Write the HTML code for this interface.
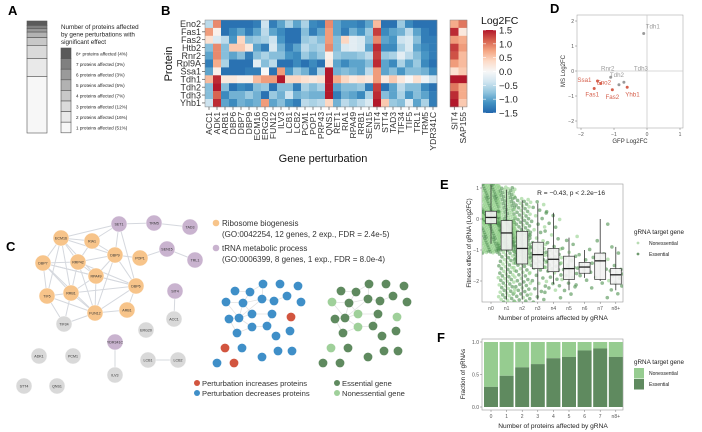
<!DOCTYPE html>
<html><head><meta charset="utf-8"><style>
body{margin:0;background:#fff}
svg{display:block;font-family:"Liberation Sans",Arial,sans-serif}
</style></head><body>
<svg id="fig" width="702" height="432" viewBox="0 0 702 432" xmlns="http://www.w3.org/2000/svg">
<g font-weight="bold" font-size="13" fill="#000">
<text x="8" y="15">A</text>
<text x="161" y="15">B</text>
<text x="6" y="251">C</text>
<text x="550" y="13">D</text>
<text x="440" y="189">E</text>
<text x="437" y="342">F</text>
</g>
<g id="pa"></g>
<g id="pb"></g>
<g id="pc"></g>
<g id="pd"></g>
<g id="pe"></g>
<g id="pf"></g>
</svg>
<script>
// ---------- DATA ----------
const aLabels = ["8+ proteins affected (4%)","7 proteins affected (3%)","6 proteins affected (3%)","5 proteins affected (5%)","4 proteins affected (7%)","3 proteins affected (12%)","2 proteins affected (16%)","1 proteins affected (51%)"];
const aPercents = [4,3,3,5,7,12,16,51];
const aShades = ["#5a5a5a","#808080","#9a9a9a","#b2b2b2","#c8c8c8","#dadada","#e9e9e9","#f7f7f7"];

const bProteins = ["Eno2","Fas1","Fas2","Htb2","Rnr2","Rpl9A","Ssa1","Tdh1","Tdh2","Tdh3","Yhb1"];
const bGenes = ["ACC1","ADK1","ARB1","DBP6","DBP7","DBP9","ECM16","ERG20","FUN12","ILV3","LCB1","LCB2","PCM1","POP1","PRP43","QNS1","RET1","RIA1","RPA49","RRB1","SEN15","SIT4","STT4","TAD3","TIF34","TIF5","TRL1","TRM5","YDR341C"];
const bValues = [
[-0.5,0.8,0.3,-0.8,-1,-1.3,-1,0.6,-0.8,-0.8,-0.4],
[0.9,0.1,-0.3,0.9,0.9,0.7,0.1,1.4,1.5,1.1,1.4],
[-1.4,-1.4,-0.5,-0.8,-0.8,-0.6,-1.4,0.2,-0.8,-1.2,-1.0],
[-1.4,-1.2,-1.1,0.5,-1.0,-1.4,-1.4,0.2,-1.4,-0.9,-1.2],
[-1.4,-1.0,0.4,0.5,-0.8,-1.4,-1.4,0.1,-1.2,-0.9,-0.9],
[-1.4,-1.3,-0.8,0.2,-1.3,-1.4,-1.3,0.1,-1.3,-0.7,-1.0],
[-1.3,-1.0,-0.7,-1.0,-0.8,-0.2,-1.3,0.6,-0.8,-0.9,-0.9],
[-0.4,-0.5,-0.6,-1.3,-0.6,-0.8,0.0,0.8,-0.7,-1.4,0.8],
[-1.3,-1.0,-0.4,-0.3,-0.8,-0.5,-1.4,0.8,-1.4,-0.7,-1.0],
[-1.0,-1.2,-1.1,-0.9,-0.8,-1.4,0.8,1.5,-0.8,-0.9,-0.8],
[-0.6,-1.4,-1.4,-1.3,-1.1,-1.4,-1.1,0.4,-0.8,-0.4,-1.1],
[-1.0,-1.4,-1.4,-1.0,-1.2,-1.2,-0.7,0.4,-1.3,-0.9,-1.3],
[-0.6,-0.8,-0.7,-0.5,-0.7,-1.4,-0.9,0.3,-0.6,-0.8,-0.5],
[-1.2,-1.3,-0.6,-0.7,-0.9,-1.2,-1.3,0.2,-0.8,-0.9,-0.6],
[-1.3,-1.0,-0.8,-0.6,-0.7,-1.4,-0.6,0.3,-0.6,-0.9,-0.5],
[0.9,0.8,0.8,0.9,0.1,0.2,1.5,1.5,1.5,1.5,0.4],
[-1.0,-1.0,-0.8,-0.8,-0.7,-1.0,-0.9,0.7,-1.0,-1.3,-0.9],
[-1.2,-1.3,0.4,-0.3,-0.8,-1.2,-0.8,0.4,-0.8,-0.9,-0.5],
[-1.2,-0.9,-0.2,-0.2,-0.8,-1.0,-0.9,0.2,-0.8,-1.0,-0.7],
[-1.3,-1.1,-0.3,-0.3,-0.7,-1.0,-1.0,0.3,-0.7,-1.2,-0.5],
[-1.0,-0.7,-0.8,-1.0,-0.5,-0.8,-0.5,0.2,-1.3,-0.6,-0.3],
[0.6,1.3,0.9,1.4,1.3,1.4,0.8,0.8,1.3,1.4,1.5],
[-1.4,-1.2,-1.0,-1.2,-0.7,-1.0,-1.0,0.2,-1.4,-0.8,0.5],
[-1.4,-1.0,-1.1,-1.2,-0.6,-1.2,-0.8,0.5,-1.0,-1.0,-0.7],
[-0.7,-0.9,-0.4,-0.6,-0.2,-0.6,-1.1,0.2,-0.5,-0.6,-0.8],
[-1.2,-0.5,-0.3,-0.3,-0.5,-1.0,-0.8,0.0,-0.8,-1.1,-0.2],
[-1.4,-1.0,-0.8,-1.0,-0.8,-0.7,-0.8,0.3,-0.8,-0.8,-1.0],
[-1.4,-1.3,-1.3,-1.2,-1.1,-1.2,-0.9,-0.1,-1.2,-1.0,-0.6],
[-1.4,-1.4,-1.3,-1.3,-1.3,-1.4,-1.2,-0.4,-1.4,-1.3,-1.3]];
const b2Genes = ["SIT4","SAP155"];
const b2Values = [
[0.7,1.4,0.8,1.3,1.2,0.8,0.3,1.5,1.0,1.4,1.5],
[1.0,0.2,0.7,0.8,0.6,0.6,0.5,1.5,0.7,0.7,0.5]];
const cbTicks = [1.5,1.0,0.5,0.0,-0.5,-1.0,-1.5];
const cbTickLabels = ["1.5","1.0","0.5","0.0","\u22120.5","\u22121.0","\u22121.5"];

const dNames = ["Tdh1","Rnr2","Tdh3","Tdh2","Ssa1","Eno2","Fas1","Fas2","Yhb1"];
const dGfp = [-0.1,-1.1,-0.7,-0.85,-1.5,-1.4,-1.6,-1.05,-0.6];
const dMs = [1.5,-0.25,-0.45,-0.55,-0.4,-0.5,-0.7,-0.75,-0.65];
const dIncreased = [0,0,0,0,1,1,1,1,1];
const dTicks = [-2,-1,0,1];
const dYTicks = [-2,-1,0,1,2];

const eGroups = ["n0","n1","n2","n3","n4","n5","n6","n7","n8+"];
const eMedian = [0.05,-0.45,-0.95,-1.15,-1.3,-1.6,-1.55,-1.35,-1.8];
const eQ1 = [-0.15,-1.0,-1.45,-1.6,-1.7,-1.95,-1.75,-1.95,-2.1];
const eQ3 = [0.25,-0.05,-0.4,-0.75,-0.95,-1.2,-1.4,-1.1,-1.6];
const eLow = [-0.8,-2.6,-2.6,-2.6,-2.1,-2.3,-1.9,-2.0,-2.3];
const eHigh = [1.1,0.95,0.6,0.5,0.2,-0.6,-1.0,0.0,-0.9];
const eCounts = [420,260,150,60,40,22,12,9,16];
const eYTicks = [1,0,-1,-2];

const fGroups = ["0","1","2","3","4","5","6","7","n8+"];
const fEssential = [0.31,0.48,0.61,0.66,0.75,0.77,0.87,0.90,0.77];
const fYTicks = [0,0.5,1.0];
const fYTickLabels = ["0.0","0.5","1.0"];

// ---------- helpers ----------
const NS="http://www.w3.org/2000/svg";
function mk(parent,tag,attrs,text){const e=document.createElementNS(NS,tag);for(const k in attrs)e.setAttribute(k,attrs[k]);if(text!==undefined)e.textContent=text;parent.appendChild(e);return e;}
const RDBU=["#2166ac","#4393c3","#92c5de","#d1e5f0","#f7f7f7","#fddbc7","#f4a582","#d6604d","#b2182b"];
function hex(h){return [1,3,5].map(i=>parseInt(h.substr(i,2),16));}
function cmap(v){let t=(Math.max(-1.5,Math.min(1.5,v))+1.5)/3*(RDBU.length-1);let i=Math.min(Math.floor(t),RDBU.length-2);let f=t-i;const a=hex(RDBU[i]),b=hex(RDBU[i+1]);return "rgb("+a.map((x,k)=>Math.round(x+(b[k]-x)*f)).join(",")+")";}

// ---------- Panel A ----------
(function(){
const g=document.getElementById("pa");
const total=aPercents.reduce((a,b)=>a+b,0);
const y0=21,h=112;let y=y0;
aPercents.forEach((p,i)=>{const hh=p/total*h;
 const r=mk(g,"rect",{x:27,y:y,width:20,height:hh,fill:aShades[i],stroke:"#555","stroke-width":0.6});
 
 
 y+=hh;});
const t=mk(g,"text",{x:61,y:29,"font-size":6.3,fill:"#222"});


["Number of proteins affected","by gene perturbations with","significant effect"].forEach((s,i)=>mk(t,"tspan",{x:61,dy:i?7.5:0},s));
aLabels.forEach((s,i)=>{const yy=48+i*10.6;
 const r=mk(g,"rect",{x:61,y:yy,width:10,height:10.6,fill:aShades[i],stroke:"#555","stroke-width":0.6});
 
 
 const tx=mk(g,"text",{x:76,y:yy+7.3,"font-size":4.6,fill:"#222"},s);
 
 });
})();

// ---------- Panel B ----------
(function(){
const g=document.getElementById("pb");
const x0=205,cw=8,y0=20,rh=7.9;
bValues.forEach((col,c)=>col.forEach((v,r)=>{
 const e=mk(g,"rect",{x:x0+c*cw,y:y0+r*rh,width:cw+0.2,height:rh+0.2,fill:cmap(v)});
 
 }));
const x2=450,cw2=8.5;
b2Values.forEach((col,c)=>col.forEach((v,r)=>{
 const e=mk(g,"rect",{x:x2+c*cw2,y:y0+r*rh,width:cw2+0.2,height:rh+0.2,fill:cmap(v)});
 
 }));
mk(g,"rect",{x:x0,y:y0,width:cw*bGenes.length,height:rh*11,fill:"none",stroke:"#888","stroke-width":0.5});
mk(g,"rect",{x:x2,y:y0,width:cw2*2,height:rh*11,fill:"none",stroke:"#888","stroke-width":0.5});
bProteins.forEach((p,r)=>{const yy=y0+(r+0.5)*rh;
 mk(g,"line",{x1:x0-3,x2:x0,y1:yy,y2:yy,stroke:"#333","stroke-width":0.6});
 const t=mk(g,"text",{x:x0-4,y:yy+3.2,"font-size":9,"text-anchor":"end",fill:"#333"},p);
 
 });
function xl(names,xs,w){names.forEach((n,c)=>{const xx=xs+(c+0.5)*w;
 mk(g,"line",{x1:xx,x2:xx,y1:y0+rh*11,y2:y0+rh*11+3,stroke:"#333","stroke-width":0.6});
 const t=mk(g,"text",{x:0,y:0,"font-size":8.6,"text-anchor":"end",fill:"#333",transform:`translate(${xx+3},${y0+rh*11+5}) rotate(-90)`},n);
 
 });}
xl(bGenes,x0,cw);xl(b2Genes,x2,cw2);
const yt=mk(g,"text",{x:0,y:0,"font-size":11,"text-anchor":"middle",fill:"#111",transform:"translate(172,64) rotate(-90)"},"Protein");


const xt=mk(g,"text",{x:323,y:162,"font-size":11,"text-anchor":"middle",fill:"#111"},"Gene perturbation");


const defs=mk(g,"defs",{});const lg=mk(defs,"linearGradient",{id:"cbg",x1:0,y1:1,x2:0,y2:0});
RDBU.forEach((c,i)=>mk(lg,"stop",{offset:i/(RDBU.length-1),"stop-color":c}));
const cbTop=30,cbBot=113;
const cb=mk(g,"rect",{x:483,y:cbTop,width:13,height:cbBot-cbTop,fill:"url(#cbg)"});


const ct=mk(g,"text",{x:481,y:24,"font-size":10.5,fill:"#111"},"Log2FC");


cbTicks.forEach((v,i)=>{const yy=cbTop+(1.5-v)/3*(cbBot-cbTop);
 mk(g,"line",{x1:483,x2:486,y1:yy,y2:yy,stroke:"#fff","stroke-width":0.6});
 mk(g,"line",{x1:493,x2:496,y1:yy,y2:yy,stroke:"#fff","stroke-width":0.6});
 const t=mk(g,"text",{x:499,y:yy+3.5,"font-size":9.5,fill:"#222"},cbTickLabels[i]);
 
 });
})();

// ---------- Panel C ----------
(function(){
const g=document.getElementById("pc");
const nodes={SET1:[119,224,"p"],TRM5:[154,223,"p"],TAD3:[190,227,"p"],ECM16:[61,238,"o"],RIA1:[92,241,"o"],DBP9:[115,255,"o"],POP1:[140,258,"o"],SEN15:[167,249,"p"],TRL1:[195,260,"p"],DBP7:[43,263,"o"],RRP42:[78,262,"o"],RPA49:[96,276,"o"],DBP6:[136,286,"o"],SIT4:[175,291,"p"],TIF5:[47,296,"o"],RRB1:[71,293,"o"],FUN12:[95,313,"o"],ARB1:[127,310,"o"],ACC1:[174,319,"g"],TIF34:[64,324,"g"],ERG20:[146,330,"g"],YDR341C:[115,342,"p"],ADK1:[39,356,"g"],PCM1:[73,356,"g"],LCB1:[148,360,"g"],LCB2:[178,360,"g"],ILV3:[115,375,"g"],STT4:[24,386,"g"],QNS1:[57,386,"g"]};
const edges=[["ECM16","RIA1"],["ECM16","DBP7"],["ECM16","RRP42"],["ECM16","DBP9"],["ECM16","RPA49"],["ECM16","RRB1"],["ECM16","SET1"],["RIA1","DBP9"],["RIA1","RRP42"],["RIA1","SET1"],["DBP9","RRP42"],["DBP9","RPA49"],["DBP9","DBP6"],["DBP9","SET1"],["DBP9","FUN12"],["DBP9","POP1"],["DBP7","RRP42"],["DBP7","RRB1"],["DBP7","TIF5"],["DBP7","RPA49"],["DBP7","DBP6"],["RRP42","RPA49"],["RRP42","RRB1"],["RRP42","DBP6"],["RRP42","FUN12"],["RPA49","RRB1"],["RPA49","DBP6"],["RPA49","FUN12"],["RRB1","TIF5"],["RRB1","FUN12"],["RRB1","DBP6"],["TIF5","FUN12"],["TIF5","TIF34"],["FUN12","TIF34"],["FUN12","ARB1"],["FUN12","DBP6"],["DBP6","ARB1"],["DBP6","SET1"],["TRM5","SET1"],["TRM5","TAD3"],["SEN15","TRL1"],["SEN15","POP1"],["SIT4","ACC1"],["LCB1","LCB2"],["YDR341C","ILV3"],["RRB1","TIF34"],["DBP7","FUN12"],["ECM16","TIF5"]];
edges.forEach(([a,b])=>{const e=mk(g,"line",{x1:nodes[a][0],y1:nodes[a][1],x2:nodes[b][0],y2:nodes[b][1],stroke:"#d5d8de","stroke-width":1});
 
 });
const col={o:"#f7c48a",p:"#c9b3cf",g:"#d9d9d9"};
for(const n in nodes){const [x,y,t]=nodes[n];
 const c=mk(g,"circle",{cx:x,cy:y,r:8,fill:col[t],stroke:"#fff","stroke-width":0.4});
 
 
 const tx=mk(g,"text",{x:x,y:y+1.5,"font-size":3.6,"text-anchor":"middle",fill:"#333"},n);
 
 }
[["#f7c48a",223,"Ribosome biogenesis","(GO:0042254, 12 genes, 2 exp., FDR = 2.4e-5)"],["#c9b3cf",248,"tRNA metabolic process","(GO:0006399, 8 genes, 1 exp., FDR = 8.0e-4)"]].forEach(([c,y,a,b])=>{
 const d=mk(g,"circle",{cx:216,cy:y,r:3.3,fill:c});
 
 
 const t=mk(g,"text",{x:222,y:y+3,"font-size":8,fill:"#333"},a);
 
 
 mk(g,"text",{x:222,y:y+14,"font-size":8,fill:"#333"},b);});
const mini=[[235,291],[250,292],[263,284],[280,284],[298,286],[226,302],[243,303],[262,299],[274,301],[287,296],[301,302],[229,319],[239,318],[252,314],[272,314],[291,317],[237,333],[252,327],[267,326],[290,331],[276,336],[225,348],[242,348],[262,357],[278,351],[292,351],[217,363],[234,363]];
const miniEdges=[[0,1],[1,6],[6,5],[6,7],[7,8],[1,2],[2,7],[7,12],[12,13],[13,6],[12,17],[13,14],[14,18],[17,18],[12,11],[11,16],[16,17],[8,9],[6,12],[5,12]];
const red=[15,21,27],light=[5,13,17,15,21];
[[0,"#3f8fc8","#d2553f",red],[106,"#5f8a5f","#9fd09a",light]].forEach(([dx,c1,c2,sp])=>{
 miniEdges.forEach(([a,b])=>mk(g,"line",{x1:mini[a][0]+dx,y1:mini[a][1],x2:mini[b][0]+dx,y2:mini[b][1],stroke:"#e2e2e2","stroke-width":0.8}));
 mini.forEach((p,i)=>{const c=mk(g,"circle",{cx:p[0]+dx,cy:p[1],r:4.4,fill:sp.includes(i)?c2:c1});
  
  });});
[[197,383,"#d2553f","Perturbation increases proteins"],[197,393,"#3f8fc8","Perturbation decreases proteins"],[337,383,"#5f8a5f","Essential gene"],[337,393,"#9fd09a","Nonessential gene"]].forEach(([x,y,c,s])=>{
 mk(g,"circle",{cx:x,cy:y,r:3,fill:c});
 const t=mk(g,"text",{x:x+5,y:y+3,"font-size":7.6,fill:"#333"},s);
 
 });
})();

// ---------- Panel D ----------
(function(){
const g=document.getElementById("pd");
const L=577,R=683,T=15,B=128;
const sx=v=>647+v*33, sy=v=>71-v*25;
mk(g,"rect",{x:L,y:T,width:R-L,height:B-T,fill:"#fff",stroke:"#999","stroke-width":0.5});
mk(g,"line",{x1:sx(0),x2:sx(0),y1:T,y2:B,stroke:"#ccc","stroke-width":0.8});
mk(g,"line",{x1:L,x2:R,y1:sy(0),y2:sy(0),stroke:"#ccc","stroke-width":0.8});
dTicks.forEach(v=>{mk(g,"line",{x1:sx(v),x2:sx(v),y1:B,y2:B+2,stroke:"#555","stroke-width":0.4});
 const t=mk(g,"text",{x:sx(v),y:B+8,"font-size":5,"text-anchor":"middle",fill:"#555"},v<0?"\u2212"+(-v):v);
 
 });
dYTicks.forEach(v=>{mk(g,"line",{x1:L-2,x2:L,y1:sy(v),y2:sy(v),stroke:"#555","stroke-width":0.4});
 const t=mk(g,"text",{x:L-3,y:sy(v)+1.8,"font-size":5,"text-anchor":"end",fill:"#555"},v<0?"\u2212"+(-v):v);
 
 });
const lblOff={Tdh1:[2,-5,"start"],Rnr2:[-3,-7,"middle"],Tdh3:[10,-12,"start"],Tdh2:[-2,-8,"middle"],Ssa1:[-6,1,"end"],Eno2:[3,1,"middle"],Fas1:[-2,8,"middle"],Fas2:[0,9,"middle"],Yhb1:[-2,9,"start"]};
dNames.forEach((n,i)=>{const x=sx(dGfp[i]),y=sy(dMs[i]);const c=dIncreased[i]?"#d6604d":"#9a9a9a";
 const p=mk(g,"circle",{cx:x,cy:y,r:1.5,fill:c});
 
 
 const o=lblOff[n];
 const t=mk(g,"text",{x:x+o[0],y:y+o[1],"font-size":6.2,"text-anchor":o[2],fill:c},n);
 
 });
const xt=mk(g,"text",{x:630,y:143,"font-size":6,"text-anchor":"middle",fill:"#333"},"GFP Log2FC");


const yt=mk(g,"text",{x:0,y:0,"font-size":6,"text-anchor":"middle",fill:"#333",transform:"translate(565,71) rotate(-90)"},"MS Log2FC");


})();

// ---------- Panel E ----------
(function(){
const g=document.getElementById("pe");
const L=482,R=623,T=184,B=302;
const sx=i=>491+i*15.6, sy=v=>219-v*31;
mk(g,"rect",{x:L,y:T,width:R-L,height:B-T,fill:"#fff",stroke:"#999","stroke-width":0.6});
const clipD=mk(g,"clipPath",{id:"eclip"});mk(clipD,"rect",{x:L,y:T,width:R-L,height:B-T});
const pts=mk(g,"g",{"clip-path":"url(#eclip)"});
function q(i,u){const ks=[0,0.25,0.5,0.75,1],vs=[eLow[i]-0.3,eQ1[i],eMedian[i],eQ3[i],eHigh[i]+0.1];
 for(let k=0;k<4;k++)if(u<=ks[k+1]){const f=(u-ks[k])/(ks[k+1]-ks[k]);return vs[k]+(vs[k+1]-vs[k])*f;}return vs[4];}
eGroups.forEach((n,i)=>{const N=eCounts[i],ess=fEssential[i];
 for(let j=0;j<N;j++){const u=(j+0.5)/N;const off=((j*0.618034)%1-0.5)*17;const e=((j*0.7548777)%1)<ess;
  const c=mk(pts,"circle",{cx:sx(i)+off,cy:sy(q(i,u)),r:1.8,fill:e?"#4f9150":"#92d18b","fill-opacity":0.6});
  
  }});
eGroups.forEach((n,i)=>{const x=sx(i),w=11;
 mk(g,"line",{x1:x,x2:x,y1:sy(eHigh[i]),y2:sy(eLow[i]),stroke:"#333","stroke-width":0.8});
 const b=mk(g,"rect",{x:x-w/2,y:sy(eQ3[i]),width:w,height:sy(eQ1[i])-sy(eQ3[i]),fill:"#f2f2f2","fill-opacity":0.9,stroke:"#333","stroke-width":0.7});
 
 
 mk(g,"line",{x1:x-w/2,x2:x+w/2,y1:sy(eMedian[i]),y2:sy(eMedian[i]),stroke:"#222","stroke-width":1.3});
 mk(g,"line",{x1:x,x2:x,y1:B,y2:B+2,stroke:"#555","stroke-width":0.4});
 const t=mk(g,"text",{x:x,y:B+8,"font-size":5,"text-anchor":"middle",fill:"#555"},n);
 
 });
eYTicks.forEach(v=>{mk(g,"line",{x1:L-2,x2:L,y1:sy(v),y2:sy(v),stroke:"#555","stroke-width":0.4});
 const t=mk(g,"text",{x:L-3,y:sy(v)+1.8,"font-size":5,"text-anchor":"end",fill:"#555"},v<0?"\u2212"+(-v):v);
 
 });
const an=mk(g,"text",{x:605,y:195,"font-size":6.6,"text-anchor":"end",fill:"#222"},"R = \u22120.43, p < 2.2e\u221216");


const xt=mk(g,"text",{x:553,y:320,"font-size":6.6,"text-anchor":"middle",fill:"#222"},"Number of proteins affected by gRNA");


const yt=mk(g,"text",{x:0,y:0,"font-size":6.2,"text-anchor":"middle",fill:"#222",transform:"translate(471,243) rotate(-90)"},"Fitness effect of gRNA (Log2FC)");


const lt=mk(g,"text",{x:634,y:234,"font-size":6.3,fill:"#222"},"gRNA target gene");


[["#b8dcb3","Nonessential",243],["#6f9a6f","Essential",254]].forEach(([c,s,y])=>{
 mk(g,"circle",{cx:638,cy:y,r:1.4,fill:c});
 const t=mk(g,"text",{x:649,y:y+2,"font-size":5,fill:"#222"},s);
 
 });
})();

// ---------- Panel F ----------
(function(){
const g=document.getElementById("pf");
const L=482,R=623,T=339,B=410;
const sx=i=>491+i*15.6, sy=v=>407-v*65;
mk(g,"rect",{x:L,y:T,width:R-L,height:B-T,fill:"#fff",stroke:"#999","stroke-width":0.6});
fGroups.forEach((n,i)=>{const x=sx(i),w=14;
 const a=mk(g,"rect",{x:x-w/2,y:sy(1),width:w,height:sy(fEssential[i])-sy(1),fill:"#96cc90"});
 
 
 const b=mk(g,"rect",{x:x-w/2,y:sy(fEssential[i]),width:w,height:sy(0)-sy(fEssential[i]),fill:"#5f8a5f"});
 
 
 mk(g,"line",{x1:x,x2:x,y1:B,y2:B+2,stroke:"#555","stroke-width":0.4});
 const t=mk(g,"text",{x:x,y:B+8,"font-size":5,"text-anchor":"middle",fill:"#555"},n);
 
 });
fYTicks.forEach((v,i)=>{mk(g,"line",{x1:L-2,x2:L,y1:sy(v),y2:sy(v),stroke:"#555","stroke-width":0.4});
 const t=mk(g,"text",{x:L-3,y:sy(v)+1.8,"font-size":5,"text-anchor":"end",fill:"#555"},fYTickLabels[i]);
 
 });
const xt=mk(g,"text",{x:553,y:428,"font-size":6.6,"text-anchor":"middle",fill:"#222"},"Number of proteins affected by gRNA");


const yt=mk(g,"text",{x:0,y:0,"font-size":6.2,"text-anchor":"middle",fill:"#222",transform:"translate(465,374) rotate(-90)"},"Fraction of gRNAs");


const lt=mk(g,"text",{x:634,y:364,"font-size":6.3,fill:"#222"},"gRNA target gene");


[["#96cc90","Nonessential",368],["#5f8a5f","Essential",379]].forEach(([c,s,y])=>{
 mk(g,"rect",{x:634,y:y,width:10,height:10.5,fill:c});
 const t=mk(g,"text",{x:649,y:y+7,"font-size":5,fill:"#222"},s);
 
 });
})();
</script>
</body></html>
